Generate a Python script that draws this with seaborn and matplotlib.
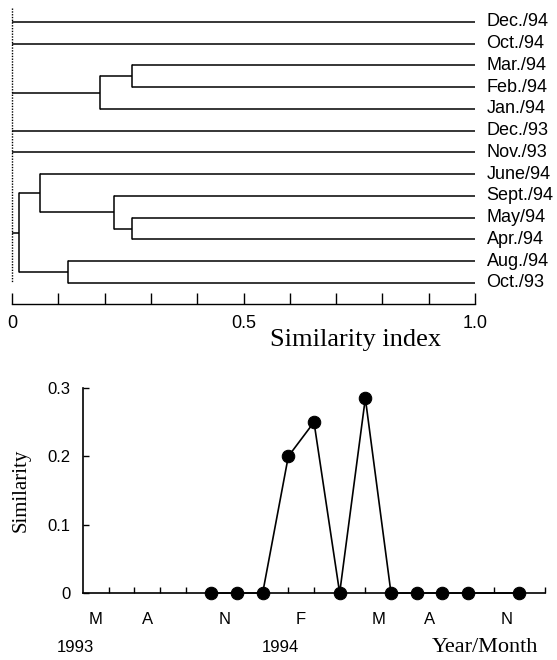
import numpy as np
import pandas as pd
import matplotlib
matplotlib.use("Agg")
import matplotlib.pyplot as plt
import matplotlib.transforms as mtransforms
import seaborn as sns

# --- dendrogram data (top panel) ---
leaves = ["Dec./94", "Oct./94", "Mar./94", "Feb./94", "Jan./94", "Dec./93", "Nov./93",
          "June/94", "Sept./94", "May/94", "Apr./94", "Aug./94", "Oct./93"]
merge_names = ["m1", "m2", "m3", "m4", "m5", "m6", "m7"]
merge_left = ["Mar./94", "m1", "May/94", "Sept./94", "June/94", "Aug./94", "m5"]
merge_right = ["Feb./94", "Jan./94", "Apr./94", "m3", "m4", "Oct./93", "m6"]
merge_sim = [0.26, 0.19, 0.26, 0.22, 0.06, 0.12, 0.015]
root_nodes = ["Dec./94", "Oct./94", "m2", "Dec./93", "Nov./93", "m7"]

# --- similarity time series (bottom panel) ---
sample_pos = [5, 6, 7, 8, 9, 10, 11, 12, 13, 14, 15, 17]
sample_sim = [0, 0, 0, 0.20, 0.25, 0, 0.285, 0, 0, 0, 0, 0]
month_pos = [0.5, 2.5, 5.5, 8.5, 11.5, 13.5, 16.5]
month_labels = ["M", "A", "N", "F", "M", "A", "N"]
year_pos = [-0.3, 7.7]
year_labels = ["1993", "1994"]

sns.set_theme(style="ticks")
plt.rcParams["font.family"] = ["Liberation Sans", "DejaVu Sans"]
serif = ["Liberation Serif", "DejaVu Serif"]

fig = plt.figure(figsize=(5.57, 6.6), dpi=100)
fig.patch.set_facecolor("white")

W, H = 557, 660
ax1 = fig.add_axes([12 / W, 1 - 304 / H, (475 - 12) / W, (304 - 8) / H])
ax2 = fig.add_axes([83 / W, 1 - 593 / H, (545 - 83) / W, (593 - 388) / H])

# ---------- dendrogram ----------
node_y = {name: i for i, name in enumerate(leaves)}
node_x = {name: 1.0 for name in leaves}
lw = 1.1
for name, a, b, s in zip(merge_names, merge_left, merge_right, merge_sim):
    for child in (a, b):
        ax1.plot([s, node_x[child]], [node_y[child], node_y[child]], color="black", lw=lw,
                 clip_on=False, solid_capstyle="butt")
    ax1.plot([s, s], [node_y[a], node_y[b]], color="black", lw=lw, clip_on=False)
    node_y[name] = (node_y[a] + node_y[b]) / 2
    node_x[name] = s

for name in root_nodes:
    ax1.plot([0, node_x[name]], [node_y[name], node_y[name]], color="black", lw=lw,
             clip_on=False, solid_capstyle="butt")
ax1.plot([0, 0], [-0.64, len(leaves) - 1], color="black", lw=1.0, ls=(0, (1, 1)), clip_on=False)

for i, lab in enumerate(leaves):
    ax1.text(1.025, i, lab, ha="left", va="center", fontsize=13, color="black")

ax1.set_xlim(0, 1)
ax1.set_ylim(12.97, -0.64)
ax1.set_facecolor("white")
for sp in ["left", "top", "right"]:
    ax1.spines[sp].set_visible(False)
ax1.spines["bottom"].set_color("black")
ax1.spines["bottom"].set_linewidth(1.0)
ax1.set_yticks([])
ax1.set_xticks(np.round(np.arange(0, 1.01, 0.1), 1))
ax1.set_xticklabels(["0", "", "", "", "", "0.5", "", "", "", "", "1.0"])
ax1.tick_params(axis="x", direction="in", length=8, width=1.0, color="black",
                labelsize=13, pad=8, labelcolor="black")
fig.text(356 / W, 1 - 340 / H, "Similarity index", ha="center", va="center",
         fontsize=19, family=serif, color="black")

# ---------- similarity series ----------
df = pd.DataFrame({"pos": sample_pos, "sim": sample_sim})
sns.lineplot(data=df, x="pos", y="sim", ax=ax2, color="black", lw=1.2, marker="o",
             markersize=9, markeredgecolor="black", markerfacecolor="black", clip_on=False)

ax2.set_xlim(0, 18)
ax2.set_ylim(0, 0.3)
ax2.set_facecolor("white")
for sp in ["top", "right"]:
    ax2.spines[sp].set_visible(False)
for sp in ["left", "bottom"]:
    ax2.spines[sp].set_color("black")
    ax2.spines[sp].set_linewidth(1.2)

ax2.set_yticks([0, 0.1, 0.2, 0.3])
ax2.set_yticklabels(["0", "0.1", "0.2", "0.3"])
ax2.tick_params(axis="y", direction="in", length=4, width=1.0, color="black",
                labelsize=12, pad=9, labelcolor="black")

ax2.set_xticks(month_pos)
ax2.set_xticklabels(month_labels)
ax2.set_xticks(np.arange(1, 19), minor=True)
ax2.tick_params(axis="x", which="major", length=0, labelsize=12, pad=14, labelcolor="black")
ax2.tick_params(axis="x", which="minor", direction="in", length=4, width=1.0, color="black")

ax2.set_xlabel("")
ax2.set_ylabel("Similarity", fontsize=15, family=serif, color="black", labelpad=12)

trans = mtransforms.blended_transform_factory(ax2.transData, ax2.transAxes)
for p, lab in zip(year_pos, year_labels):
    ax2.text(p, -0.268, lab, transform=trans, ha="center", va="center", fontsize=12,
             color="black", clip_on=False)
ax2.text(485 / W, 1 - 647 / H, "Year/Month", transform=fig.transFigure, ha="center",
         va="center", fontsize=16, family=serif, color="black")

fig.savefig("out.png", dpi=100, facecolor="white")
